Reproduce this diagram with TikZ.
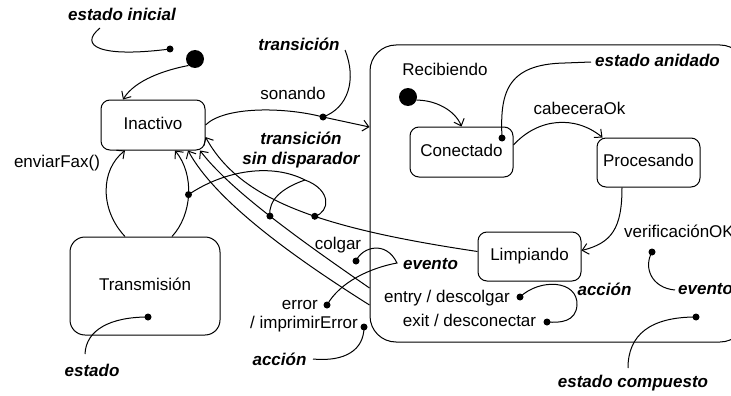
\documentclass[tikz,border=0pt]{standalone}
\usepackage{fontspec}
\setmainfont{Liberation Sans}
\usetikzlibrary{arrows.meta}
\begin{document}
\begin{tikzpicture}[x=1pt,y=-1pt,
  txt/.style={font=\fontsize{17}{19}\selectfont, inner sep=0pt, text height=12.2pt, text depth=3.4pt},
  ann/.style={txt, font=\fontsize{17}{19}\selectfont\bfseries\itshape},
  st/.style={txt, draw, line width=1pt, rounded corners=9pt, minimum width=103pt, minimum height=50pt},
  tr/.style={line width=1pt, -{Straight Barb[length=6pt,width=11pt,line width=1pt]}},
  ln/.style={line width=1pt},
  dot/.style={circle, fill, inner sep=0pt, minimum size=7pt},
  init/.style={circle, fill, inner sep=0pt, minimum size=18pt},
]
\useasboundingbox (0,0) rectangle (731,396);
\clip (0,0) rectangle (731,396);

% states
\node[st, minimum width=376pt, minimum height=297pt, rounded corners=26pt] (comp) at (558,193.5) {};
\node[st, minimum width=104pt] (inac) at (153,125) {Inactivo};
\node[st, rounded corners=15pt, minimum width=150pt, minimum height=98pt] (trans) at (145,286) {Transmisión};
\node[st] (con) at (461.5,152) {Conectado};
\node[st, minimum height=49pt] (proc) at (648.5,162.5) {Procesando};
\node[st, minimum height=49pt] (limp) at (529.5,256.5) {Limpiando};
\node[init] (i1) at (195,59) {};
\node[init] (i2) at (408,97) {};

% transitions
\draw[tr] (i1.225) .. controls (165,70) and (135,80) .. ([xshift=-30pt]inac.north);
\coordinate (d2) at (323,117);
\draw[tr] (inac.east) .. controls (225,106) and (285,107) .. (d2) .. controls (345,122) .. ([yshift=66.5pt]comp.west);
\node[dot] (d2n) at (d2) {};
\draw[tr] ([xshift=-20pt]trans.north) .. controls (100,210) and (100,170) .. ([xshift=-28pt]inac.south);
\draw[tr] ([xshift=27pt]trans.north) .. controls (192,215) and (195,175) .. ([xshift=22pt]inac.south) node[dot,pos=0.5] (d4) {};
\draw[tr] ([yshift=5pt]limp.west) .. controls (320,228) and (240,200) .. ([yshift=-12pt]inac.east) node[dot,pos=0.43] (d6) {};
\draw[tr] ([yshift=-94.5pt]comp.west) .. controls (300,240) and (230,190) .. ([xshift=47pt]inac.south) node[dot,pos=0.5] (d5) {};
\draw[tr] ([yshift=-111.5pt]comp.west) .. controls (290,255) and (215,200) .. ([xshift=35pt]inac.south);
\draw[tr] (i2.-20) .. controls (435,100) and (455,110) .. (con.north);
\draw[tr] ([yshift=7pt]con.east) .. controls (538,118) and (575,115) .. ([xshift=-46pt]proc.north);
\draw[tr] ([xshift=-26.5pt]proc.south) .. controls (622,228) and (612,243) .. ([yshift=6pt]limp.east);

% annotation dots
\node[dot] (d1) at (170,49) {};
\node[dot] (d3) at (502,138) {};
\node[dot] (d7) at (356,261) {};
\node[dot] (d8) at (327,305) {};
\node[dot] (d9) at (364,327) {};
\node[dot] (d10) at (520,297) {};
\node[dot] (d11) at (547,322) {};
\node[dot] (d12) at (652,252) {};
\node[dot] (d13) at (696,317) {};
\node[dot] (d14) at (148,317) {};

% annotation curves
\coordinate (c1) at (100,28);
\draw[ln] (c1) .. controls (78,46) and (100,58) .. (d1.center);
\coordinate (c2) at (345,50);
\draw[ln] (c2) .. controls (357,80) and (348,108) .. (d2n.center);
\coordinate (c3) at (591,62);
\draw[ln] (c3) -- (565,63) .. controls (505,64) and (500,95) .. (d3.center);
\coordinate (c4) at (305,180);
\draw[ln] (d4.center) .. controls (225,170) and (272,163) .. (c4) .. controls (332,190) and (330,212) .. (d6.center);
\draw[ln] (c4) .. controls (282,188) and (268,200) .. (d5.center);
\coordinate (c5) at (397,263);
\draw[ln] (d7.center) .. controls (362,247) and (386,240) .. (c5) .. controls (370,268) and (340,282) .. (d8.center);
\coordinate (c6) at (313,359);
\draw[ln] (d9.center) .. controls (364,350) and (345,362) .. (c6);
\draw[ln] (d10.center) .. controls (540,278) and (578,280) .. (577,305) .. controls (576,322) and (560,323) .. (d11.center);
\coordinate (c7) at (675,290);
\draw[ln] (d12.center) .. controls (643,268) and (652,288) .. (c7);
\coordinate (c8) at (628,368);
\draw[ln] (c8) .. controls (628,335) and (650,317) .. (d13.center);
\coordinate (c9) at (85,354);
\draw[ln] (d14.center) .. controls (110,317) and (86,330) .. (c9);

% labels
\node[txt] (tson) at (293,95) {sonando};
\node[txt] (tenv) at (57,163) {enviarFax()};
\node[txt] (tcol) at (338,245) {colgar};
\node[txt, anchor=east] (terr) at (318,305) {error};
\node[txt, anchor=east] (timp) at (358,324) {/ imprimirError};
\node[txt] (tentry) at (447,298) {entry / descolgar};
\node[txt] (texit) at (469.5,322) {exit / desconectar};
\node[txt] (trec) at (445,71) {Recibiendo};
\node[txt] (tcab) at (579.5,110) {cabeceraOk};
\node[txt, anchor=west] (tver) at (624,233) {verificaciónOK};

\node[ann] (a1) at (122,16) {estado inicial};
\node[ann] (a2) at (299,46) {transición};
\node[ann] (a3) at (301,140) {transición};
\node[ann] (a4) at (301,160) {sin disparador};
\node[ann] (a5) at (657.5,62) {estado anidado};
\node[ann] (a6) at (430.5,265) {evento};
\node[ann] (a7) at (279.5,361) {acción};
\node[ann] (a8) at (604.5,291) {acción};
\node[ann, anchor=west] (a9) at (678,290) {evento};
\node[ann] (a10) at (633,383) {estado compuesto};
\node[ann] (a11) at (92,372) {estado};
\end{tikzpicture}
\end{document}
